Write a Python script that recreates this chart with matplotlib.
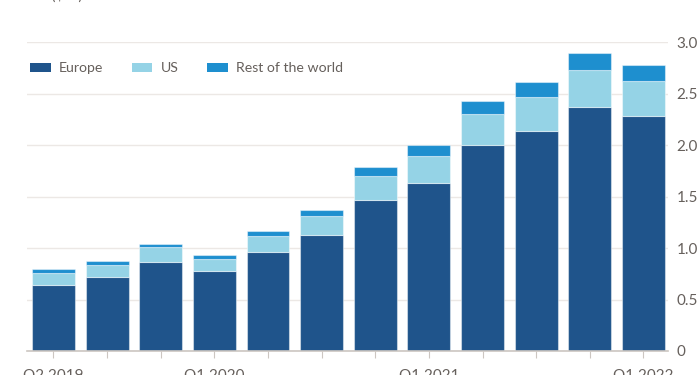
import matplotlib
matplotlib.use("Agg")
import matplotlib.pyplot as plt
import numpy as np

quarters = ["Q2 2019", "Q3 2019", "Q4 2019", "Q1 2020", "Q2 2020", "Q3 2020",
            "Q4 2020", "Q1 2021", "Q2 2021", "Q3 2021", "Q4 2021", "Q1 2022"]
europe = [0.64, 0.716, 0.867, 0.774, 0.958, 1.126, 1.466, 1.631, 2.0, 2.133, 2.372, 2.279]
us = [0.117, 0.122, 0.14, 0.119, 0.162, 0.185, 0.234, 0.265, 0.304, 0.33, 0.359, 0.342]
rest = [0.036, 0.033, 0.035, 0.036, 0.042, 0.058, 0.09, 0.101, 0.123, 0.145, 0.162, 0.156]
shown_labels = {"Q2 2019", "Q1 2020", "Q1 2021", "Q1 2022"}
yticks = [0, 0.5, 1.0, 1.5, 2.0, 2.5, 3.0]
ytick_labels = ["0", "0.5", "1.0", "1.5", "2.0", "2.5", "3.0"]

plt.rcParams['font.family'] = ['Lato', 'DejaVu Sans']

c_eu = '#1f548b'
c_us = '#95d3e6'
c_row = '#1e8fcf'
grid_c = '#ece8e5'
text_c = '#66605c'

fig = plt.figure(figsize=(7, 3.75), dpi=100)
ax = fig.add_axes([27/700, 24/375, 641/700, 309/375])

x = np.arange(len(quarters))
e = np.array(europe)
u = np.array(us)
r = np.array(rest)
kw = dict(width=0.8, edgecolor=(1, 1, 1, 0.45), linewidth=0.8, zorder=3)
ax.bar(x, e, color=c_eu, label="Europe", **kw)
ax.bar(x, u, bottom=e, color=c_us, label="US", **kw)
ax.bar(x, r, bottom=e + u, color=c_row, label="Rest of the world", **kw)

ax.set_xlim(-0.494, len(quarters) - 1 + 0.457)
ax.set_ylim(0, 3.0)
ax.set_yticks(yticks)
ax.set_yticklabels(ytick_labels)
ax.yaxis.tick_right()
ax.tick_params(axis='y', length=0, pad=6, labelsize=11, labelcolor=text_c)
ax.grid(axis='y', color=grid_c, linewidth=1, zorder=0)
ax.set_axisbelow(True)

ax.set_xticks(x)
ax.set_xticklabels([q if q in shown_labels else "" for q in quarters])
ax.tick_params(axis='x', length=5, width=0.8, color='#ccc6c1', pad=8,
               labelsize=11, labelcolor=text_c)

for s in ['top', 'right', 'left']:
    ax.spines[s].set_visible(False)
ax.spines['bottom'].set_color('#ccc6c1')
ax.spines['bottom'].set_linewidth(1.2)
ax.spines['bottom'].set_zorder(4)

leg = ax.legend(loc='upper left', bbox_to_anchor=(-0.004, 0.952), ncol=3, frameon=False,
                fontsize=10.2, handlelength=1.45, handleheight=0.6, columnspacing=2.0,
                handletextpad=0.6, labelcolor=text_c, borderaxespad=0.2, borderpad=0.2)
for h in leg.legend_handles:
    h.set_edgecolor('none')

fig.text(83/700, 1.012, "Global sustainable fund assets ($tn)", fontsize=11,
         color=text_c, va='center', ha='right')

fig.savefig("out.png", dpi=100)
